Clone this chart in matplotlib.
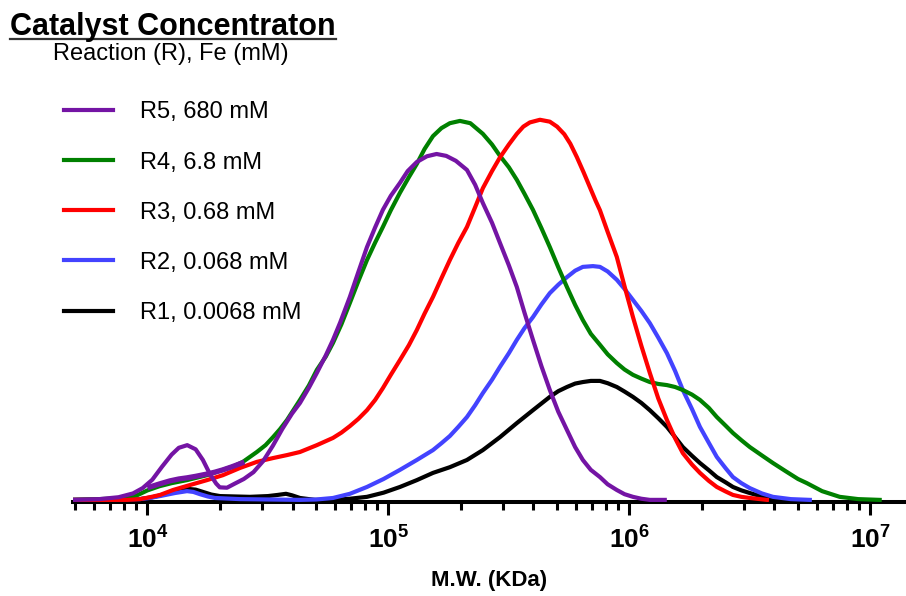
import numpy as np
import matplotlib
matplotlib.use("Agg")
import matplotlib.pyplot as plt
from matplotlib.lines import Line2D
from matplotlib.ticker import LogLocator, FuncFormatter, NullFormatter

plt.rcParams['font.family'] = ['Liberation Sans', 'DejaVu Sans']
plt.rcParams['mathtext.fontset'] = 'custom'
plt.rcParams['mathtext.rm'] = 'Liberation Sans:bold'
plt.rcParams['mathtext.it'] = 'Liberation Sans:bold'
plt.rcParams['mathtext.bf'] = 'Liberation Sans:bold'

# GPC traces: log10(M.W.) and relative signal
r5_logmw = [3.691, 3.80, 3.88, 3.94, 3.98, 4.02, 4.06, 4.10, 4.13, 4.165, 4.20, 4.23, 4.26, 4.285,
            4.30, 4.33, 4.36, 4.40, 4.44, 4.48, 4.52, 4.56, 4.60, 4.633, 4.67, 4.703, 4.74, 4.77,
            4.80, 4.84, 4.875, 4.911, 4.945, 4.977, 5.01, 5.048, 5.08, 5.118, 5.16, 5.20, 5.24,
            5.28, 5.326, 5.36, 5.392, 5.43, 5.463, 5.50, 5.533, 5.565, 5.60, 5.635, 5.67, 5.705,
            5.741, 5.775, 5.807, 5.84, 5.878, 5.91, 5.948, 5.98, 6.015, 6.05, 6.085, 6.147]
r5_y = [0.3, 0.5, 1.0, 2.0, 3.4, 5.6, 9.0, 12.2, 14.0, 14.7, 13.6, 10.8, 7.0, 4.6,
        3.6, 3.5, 4.5, 5.8, 7.6, 10.5, 14.5, 19.0, 23.0, 25.8, 29.8, 33.7, 38.3, 42.4,
        47.0, 53.7, 60.2, 66.8, 72.0, 76.6, 80.3, 83.7, 86.8, 89.2, 90.7, 91.3, 90.8,
        89.5, 87.1, 83.2, 78.4, 73.2, 67.9, 62.0, 56.3, 49.5, 42.4, 35.5, 29.2, 23.5,
        18.7, 14.2, 10.8, 8.2, 6.3, 4.4, 2.9, 1.8, 1.1, 0.6, 0.3, 0.3]
# second R5 trace at the low M.W. shoulder
r5b_logmw = [4.010, 4.05, 4.093, 4.13, 4.164, 4.20, 4.247, 4.28, 4.313, 4.35, 4.392]
r5b_y = [3.7, 4.5, 5.3, 5.8, 6.1, 6.5, 7.1, 7.6, 8.2, 9.0, 10.0]

r4_logmw = [3.691, 3.80, 3.915, 3.96, 4.00, 4.05, 4.10, 4.164, 4.247, 4.313, 4.36, 4.396, 4.454,
            4.49, 4.521, 4.55, 4.579, 4.633, 4.67, 4.703, 4.74, 4.77, 4.805, 4.84, 4.875, 4.911,
            4.945, 4.977, 5.01, 5.048, 5.085, 5.118, 5.15, 5.185, 5.22, 5.255, 5.297, 5.34,
            5.392, 5.43, 5.463, 5.50, 5.533, 5.565, 5.60, 5.635, 5.67, 5.705, 5.741, 5.775,
            5.807, 5.84, 5.878, 5.91, 5.948, 5.98, 6.015, 6.05, 6.085, 6.12, 6.156, 6.19, 6.222,
            6.26, 6.293, 6.33, 6.363, 6.40, 6.43, 6.465, 6.50, 6.55, 6.596, 6.65, 6.70, 6.737,
            6.80, 6.873, 6.95, 7.039]
r4_y = [0.3, 0.5, 0.8, 1.6, 2.8, 3.9, 4.7, 5.5, 6.8, 8.2, 9.2, 10.3, 12.9,
        14.7, 16.8, 18.9, 21.3, 26.6, 30.4, 34.5, 38.0, 41.6, 46.5, 52.1, 57.8, 63.4,
        68.0, 72.1, 76.5, 81.1, 85.2, 88.7, 92.6, 96.0, 98.1, 99.4, 100.0, 99.4,
        96.6, 93.8, 90.8, 87.8, 84.5, 80.8, 76.6, 71.8, 66.8, 61.5, 56.3, 51.6,
        47.6, 44.0, 41.1, 38.6, 36.3, 34.6, 33.2, 32.2, 31.3, 30.8, 30.5, 30.0, 29.2,
        28.0, 26.6, 24.5, 22.1, 19.8, 17.9, 16.0, 14.2, 12.0, 10.0, 7.8, 5.8, 4.7,
        2.6, 1.1, 0.5, 0.3]

r3_logmw = [3.691, 3.915, 3.969, 4.01, 4.052, 4.106, 4.176, 4.247, 4.313, 4.384, 4.454, 4.521,
            4.58, 4.633, 4.703, 4.77, 4.805, 4.84, 4.875, 4.911, 4.945, 4.977, 5.01, 5.048,
            5.085, 5.118, 5.15, 5.185, 5.22, 5.255, 5.29, 5.326, 5.36, 5.392, 5.43, 5.463,
            5.50, 5.533, 5.56, 5.587, 5.629, 5.67, 5.70, 5.73, 5.755, 5.782, 5.81, 5.836,
            5.86, 5.878, 5.91, 5.948, 5.98, 6.015, 6.05, 6.085, 6.12, 6.156, 6.19, 6.222,
            6.26, 6.293, 6.33, 6.363, 6.40, 6.43, 6.465, 6.50, 6.571]
r3_y = [0.3, 0.3, 0.5, 1.0, 1.6, 2.9, 4.2, 5.5, 6.8, 8.7, 10.3, 11.3,
        12.1, 12.9, 14.7, 16.6, 18.0, 19.7, 21.6, 23.9, 26.6, 29.7, 33.2, 37.1,
        41.0, 45.0, 49.3, 53.7, 58.6, 63.4, 67.9, 72.1, 77.3, 82.3, 86.8, 90.4,
        93.8, 96.6, 98.5, 99.6, 100.3, 99.8, 98.5, 96.5, 94.0, 90.5, 86.5, 82.6,
        79.0, 76.5, 70.8, 64.2, 56.5, 48.4, 40.8, 33.7, 27.0, 21.3, 16.5, 12.6,
        9.6, 7.4, 5.3, 3.7, 2.5, 1.6, 1.1, 0.8, 0.3]

r2_logmw = [3.691, 3.969, 4.01, 4.052, 4.114, 4.164, 4.19, 4.218, 4.25, 4.28, 4.384, 4.633,
            4.70, 4.77, 4.84, 4.911, 4.98, 5.048, 5.118, 5.185, 5.22, 5.255, 5.29, 5.326,
            5.36, 5.392, 5.43, 5.463, 5.50, 5.533, 5.565, 5.60, 5.635, 5.67, 5.705, 5.741,
            5.775, 5.807, 5.849, 5.878, 5.91, 5.948, 5.98, 6.015, 6.05, 6.085, 6.12, 6.156,
            6.19, 6.222, 6.26, 6.293, 6.33, 6.363, 6.40, 6.43, 6.465, 6.50, 6.55, 6.596,
            6.67, 6.749]
r2_y = [0.3, 0.5, 0.8, 1.3, 2.1, 2.6, 2.4, 1.8, 1.2, 0.8, 0.5, 0.3,
        0.4, 0.8, 1.9, 3.7, 5.8, 8.2, 10.8, 13.4, 15.2, 17.1, 19.5, 22.1,
        25.2, 28.4, 31.9, 35.3, 38.9, 42.4, 45.5, 48.4, 51.7, 54.7, 56.9, 58.9,
        60.6, 61.6, 61.8, 61.6, 60.4, 58.2, 55.8, 52.9, 50.0, 46.8, 43.0, 38.9,
        34.2, 29.2, 24.2, 19.5, 15.3, 11.6, 8.6, 6.3, 4.7, 3.4, 2.0, 1.1,
        0.5, 0.3]

r1_logmw = [3.691, 3.969, 4.02, 4.073, 4.12, 4.164, 4.20, 4.23, 4.265, 4.301, 4.425, 4.50,
            4.54, 4.575, 4.60, 4.633, 4.695, 4.77, 4.84, 4.911, 4.98, 5.048, 5.118, 5.185,
            5.255, 5.326, 5.392, 5.463, 5.533, 5.60, 5.67, 5.705, 5.741, 5.775, 5.807, 5.84,
            5.878, 5.91, 5.948, 5.98, 6.015, 6.05, 6.085, 6.12, 6.156, 6.19, 6.222, 6.26,
            6.293, 6.33, 6.363, 6.40, 6.43, 6.465, 6.50, 6.55, 6.604, 6.645]
r1_y = [0.3, 0.5, 1.0, 1.8, 2.6, 3.2, 3.0, 2.4, 1.7, 1.3, 1.1, 1.3,
        1.6, 1.9, 1.5, 0.8, 0.3, 0.3, 0.6, 1.1, 2.2, 3.7, 5.5, 7.4,
        8.9, 10.8, 13.4, 16.8, 20.5, 23.9, 27.4, 28.9, 30.0, 30.9, 31.3, 31.6,
        31.6, 31.0, 30.0, 28.8, 27.4, 25.8, 23.9, 21.8, 19.5, 16.8, 14.2, 11.9,
        10.0, 8.1, 6.3, 4.9, 3.7, 2.8, 2.1, 1.2, 0.5, 0.3]

labels = ["R5, 680 mM", "R4, 6.8 mM", "R3, 0.68 mM", "R2, 0.068 mM", "R1, 0.0068 mM"]
colors = ['#7414A4', '#008000', '#FF0000', '#4343FF', '#000000']

fig = plt.figure(figsize=(9.06, 5.96), dpi=100)
ax = fig.add_axes([0.0806, 0.1577, 0.918, 0.6745])

lw = 3.0
ax.plot(10 ** np.array(r1_logmw), r1_y, color=colors[4], lw=lw, label=labels[4], zorder=2)
ax.plot(10 ** np.array(r2_logmw), r2_y, color=colors[3], lw=lw, label=labels[3], zorder=3)
ax.plot(10 ** np.array(r4_logmw), r4_y, color=colors[1], lw=lw, label=labels[1], zorder=4)
ax.plot(10 ** np.array(r3_logmw), r3_y, color=colors[2], lw=lw, label=labels[2], zorder=5)
ax.plot(10 ** np.array(r5_logmw), r5_y, color=colors[0], lw=lw, label=labels[0], zorder=6)
ax.plot(10 ** np.array(r5b_logmw), r5b_y, color=colors[0], lw=lw + 0.8, zorder=6)

ax.set_xscale('log')
ax.set_xlim(4909, 1.39e7)
ax.set_ylim(-0.26, 105.5)

for s in ['top', 'right', 'left']:
    ax.spines[s].set_visible(False)
ax.spines['bottom'].set_linewidth(2.9)
ax.set_yticks([])


def decade_label(x, pos):
    return r'$\mathbf{10^{%d}}$' % int(round(np.log10(x)))


ax.xaxis.set_major_locator(LogLocator(base=10, numticks=10))
ax.xaxis.set_minor_locator(LogLocator(base=10, subs=np.arange(2, 10), numticks=20))
ax.xaxis.set_major_formatter(FuncFormatter(decade_label))
ax.xaxis.set_minor_formatter(NullFormatter())
ax.tick_params(axis='x', which='major', length=9.4, width=2.2, pad=8, labelsize=19)
ax.tick_params(axis='x', which='minor', length=5.8, width=2.2)
ax.set_xlabel('M.W. (KDa)', fontsize=16, fontweight='bold', labelpad=12)

# legend in the order R5 ... R1
h, l = ax.get_legend_handles_labels()
handle_map = dict(zip(l, h))
leg = fig.legend([handle_map[t] for t in labels], labels,
                 loc='upper left', bbox_to_anchor=(55 / 906, 1 - 92 / 596),
                 frameon=False, fontsize=17, handlelength=2.05,
                 handletextpad=1.15, labelspacing=1.19, borderaxespad=0)
for line in leg.get_lines():
    line.set_linewidth(3.0)

fig.text(53 / 906, 1 - 60 / 596, 'Reaction (R), Fe (mM)', fontsize=17,
         ha='left', va='baseline')

title = fig.text(10 / 906, 1 - 35 / 596, 'Catalyst Concentraton', fontsize=22,
                 fontweight='bold', ha='left', va='baseline')
fig.canvas.draw()
bb = title.get_window_extent()
fig.add_artist(Line2D([bb.x0 / 906, bb.x1 / 906], [1 - 39 / 596, 1 - 39 / 596],
                      color='#333333', lw=1.6))

fig.savefig('out.png', dpi=100)
